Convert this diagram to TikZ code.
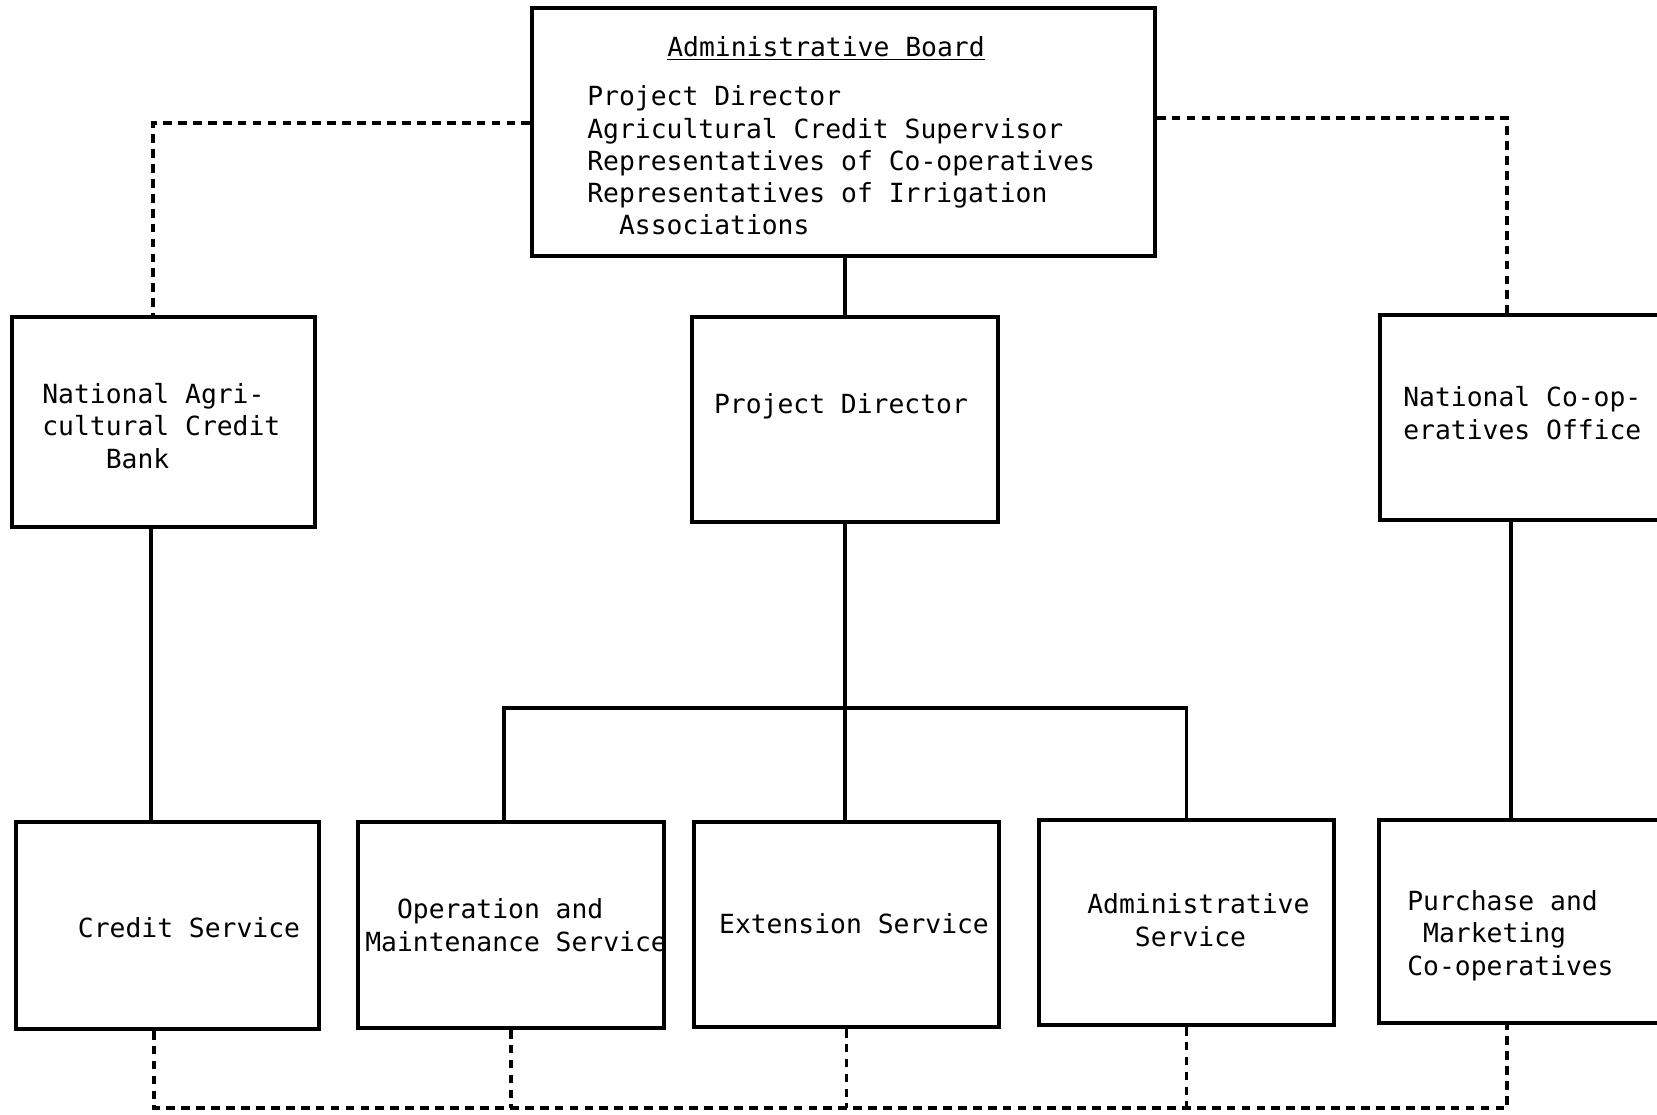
\documentclass[tikz,border=0pt]{standalone}
\usepackage{fontspec}
\setmonofont{DejaVu Sans Mono}
\usetikzlibrary{fit}
\begin{document}
\begin{tikzpicture}[x=0.02cm,y=-0.02cm,
  box/.style={draw, line width=2pt, inner sep=0pt, rectangle},
  link/.style={line width=1.8pt},
  dotlink/.style={line width=1.8pt, dash pattern=on 5pt off 3.5pt},
  txt/.style={font=\ttfamily\fontsize{15}{18.4}\selectfont, inner sep=0pt, align=left, anchor=base west}]
\useasboundingbox (0,0) rectangle (1657,1115);

% boxes
\node[box, fit={(532,8) (1155,256)}] (board) {};
\node[box, fit={(12,317) (315,527)}] (nacb) {};
\node[box, fit={(692,317) (998,522)}] (pd) {};
\node[box, fit={(1380,315) (1720,520)}] (nco) {};
\node[box, fit={(16,822) (319,1029)}] (credit) {};
\node[box, fit={(358,822) (664,1028)}] (om) {};
\node[box, fit={(694,822) (999,1027)}] (ext) {};
\node[box, fit={(1039,820) (1334,1025)}] (adm) {};
\node[box, fit={(1379,820) (1720,1023)}] (pm) {};

% texts (multi-line nodes sit on the baseline of their last line)
\node[txt, anchor=base] (title) at (826,57) {\underline{Administrative Board}};
\node[txt] (members) at (587,235) {Project Director\\Agricultural Credit Supervisor\\Representatives of Co-operatives\\Representatives of Irrigation\\\phantom{xx}Associations};
\node[txt] (tnacb) at (42,468) {National Agri-\\cultural Credit\\\phantom{xxxx}Bank};
\node[txt, anchor=base] (tpd) at (841,413) {Project Director};
\node[txt] (tnco) at (1403,439) {National Co-op-\\eratives Office};
\node[txt, anchor=base] (tcredit) at (189,937) {Credit Service};
\node[txt] (tom) at (365,951) {\phantom{xx}Operation and\\Maintenance Service};
\node[txt, anchor=base] (text) at (854,933) {Extension Service};
\node[txt] (tadm) at (1087,946) {Administrative\\\phantom{xxx}Service};
\node[txt] (tpm) at (1407,975) {Purchase and\\\phantom{x}Marketing\\Co-operatives};

% connector positions
\coordinate (xa) at (153,0);
\coordinate (xb) at (1507,0);
\coordinate (xc) at (151,0);
\coordinate (xd) at (1511,0);
\coordinate (xe) at (504,0);
\coordinate (xf) at (154,0);
\coordinate (bus) at (0,708);
\coordinate (low) at (0,1108);

% advisory links from the board
\draw[dotlink] ([yshift=0.18cm]board.west) -| (nacb.north -| xa);
\draw[dotlink] ([yshift=0.28cm]board.east) -| (nco.north -| xb);

% line of authority
\draw[link] (board.south -| pd.north) -- (pd.north);
\draw[link] (nacb.south -| xc) -- (credit.north -| xc);
\draw[link] (nco.south -| xd) -- (pm.north -| xd);
\draw[link] (pd.south) -- (pd.south |- bus);
\draw[link] (om.north -| xe) -- (xe |- bus) -- (adm.north |- bus) -- (adm.north);
\draw[link] (pd.south |- bus) -- (ext.north -| pd.south);

% coordination among the services
\draw[dotlink] (credit.south -| xf) -- (xf |- low) -- (xb |- low) -- (pm.south -| xb);
\draw[dotlink] (om.south) -- (om.south |- low);
\draw[dotlink] (ext.south) -- (ext.south |- low);
\draw[dotlink] (adm.south) -- (adm.south |- low);
\end{tikzpicture}
\end{document}
